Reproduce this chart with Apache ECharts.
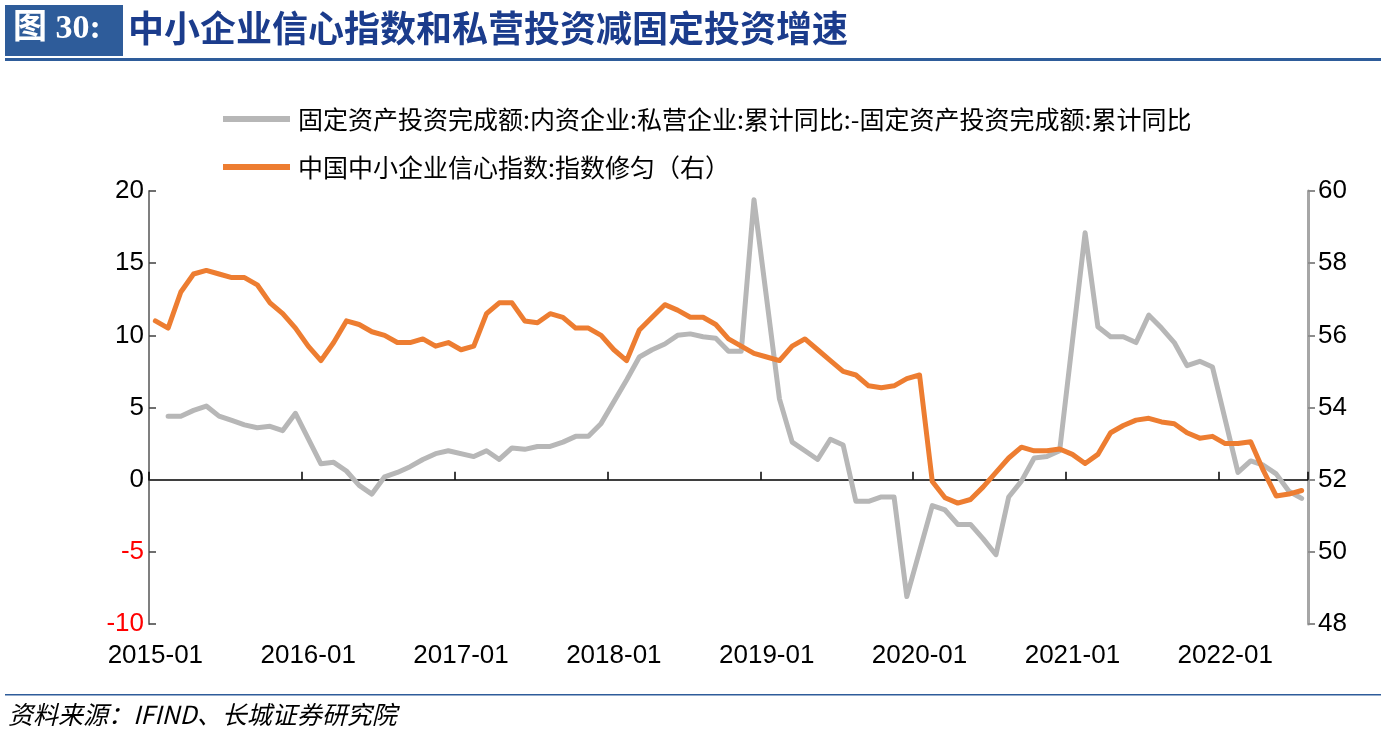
<!DOCTYPE html>
<html>
<head>
<meta charset="utf-8">
<script src="https://cdn.jsdelivr.net/npm/echarts@6/dist/echarts.min.js"></script>
<style>
html,body{margin:0;padding:0;background:#fff;}
#chart{width:1394px;height:746px;}
</style>
</head>
<body>
<div id="chart"></div>
<script>
// Categories: monthly 2015-01 .. 2022-07
var startYear = 2015, monthCount = 91;
var categories = [];
for (var k = 0; k < monthCount; k++) {
  var yy = startYear + Math.floor(k / 12), mm = (k % 12) + 1;
  categories.push(yy + '-' + (mm < 10 ? '0' + mm : mm));
}

var seriesPrivateMinusTotalName = '固定资产投资完成额:内资企业:私营企业:累计同比:-固定资产投资完成额:累计同比';
var seriesSmeIndexName = '中国中小企业信心指数:指数修匀（右）';

// Left axis series (%), January values not published -> null (line connects)
var privateMinusTotal = [
  null, 4.4, 4.4, 4.8, 5.1, 4.4, 4.1, 3.8, 3.6, 3.7, 3.4, 4.6,
  null, 1.1, 1.2, 0.6, -0.4, -1.0, 0.2, 0.5, 0.9, 1.4, 1.8, 2.0,
  null, 1.6, 2.0, 1.4, 2.2, 2.1, 2.3, 2.3, 2.6, 3.0, 3.0, 3.9,
  null, 6.9, 8.5, 9.0, 9.4, 10.0, 10.1, 9.9, 9.8, 8.9, 8.9, 19.4,
  null, 5.6, 2.6, 2.0, 1.4, 2.8, 2.4, -1.5, -1.5, -1.2, -1.2, -8.1,
  null, -1.8, -2.1, -3.1, -3.1, -4.1, -5.2, -1.2, -0.1, 1.5, 1.6, 2.0,
  null, 17.1, 10.6, 9.9, 9.9, 9.5, 11.4, 10.5, 9.5, 7.9, 8.2, 7.8,
  null, 0.5, 1.3, 1.0, 0.4, -0.8, -1.3
];

// Right axis series (index)
var smeConfidence = [
  56.4, 56.2, 57.2, 57.7, 57.8, 57.7, 57.6, 57.6, 57.4, 56.9, 56.6, 56.2,
  55.7, 55.3, 55.8, 56.4, 56.3, 56.1, 56.0, 55.8, 55.8, 55.9, 55.7, 55.8,
  55.6, 55.7, 56.6, 56.9, 56.9, 56.4, 56.35, 56.6, 56.5, 56.2, 56.2, 56.0,
  55.6, 55.3, 56.15, 56.5, 56.85, 56.7, 56.5, 56.5, 56.3, 55.9, 55.7, 55.5,
  55.4, 55.3, 55.7, 55.9, 55.6, 55.3, 55.0, 54.9, 54.6, 54.55, 54.6, 54.8,
  54.9, 51.95, 51.5, 51.35, 51.45, 51.8, 52.2, 52.6, 52.9, 52.8, 52.8, 52.85,
  52.7, 52.45, 52.7, 53.3, 53.5, 53.65, 53.7, 53.6, 53.55, 53.3, 53.15, 53.2,
  53.0, 53.0, 53.05, 52.25, 51.55, 51.6, 51.7
];

var leftAxisMin = -10, leftAxisMax = 20, leftAxisStep = 5;
var rightAxisMin = 48, rightAxisMax = 60, rightAxisStep = 2;

var titleTag = '图 30:';
var titleText = '中小企业信心指数和私营投资减固定投资增速';
var sourceText = '资料来源：IFIND、长城证券研究院';

var chart = echarts.init(document.getElementById('chart'), null, {renderer: 'canvas'});
var numFont = '"Liberation Sans", Arial, sans-serif';
var cjkFont = '"Noto Sans CJK SC", "Liberation Sans", sans-serif';
var blue = '#2E5C9A';

var option = {
  backgroundColor: '#ffffff',
  animation: false,
  grid: {left: 149, right: 86, top: 191, bottom: 122, containLabel: false, outerBoundsMode: 'none'},
  legend: {
    orient: 'vertical',
    left: 218,
    top: 100,
    icon: 'rect',
    itemWidth: 67,
    itemHeight: 6,
    itemGap: 20,
    textStyle: {fontFamily: cjkFont, fontSize: 25, color: '#000', lineHeight: 28, padding: [0, 0, 0, 3]},
    data: [seriesPrivateMinusTotalName, seriesSmeIndexName]
  },
  xAxis: {
    type: 'category',
    data: categories,
    boundaryGap: true,
    axisLine: {show: true, onZero: true, onZeroAxisIndex: 0, lineStyle: {color: '#000', width: 1.5}},
    axisTick: {show: true, inside: true, interval: 11, length: 8, lineStyle: {color: '#000', width: 1.5}},
    axisLabel: {show: true, interval: 11, margin: 19, fontFamily: numFont, fontSize: 26, color: '#000'},
    splitLine: {show: false}
  },
  yAxis: [
    {
      type: 'value',
      position: 'left',
      min: leftAxisMin, max: leftAxisMax, interval: leftAxisStep,
      axisLine: {show: true, lineStyle: {color: '#7f7f7f', width: 2}},
      axisTick: {show: true, inside: true, length: 7, lineStyle: {color: '#404040', width: 1.5}},
      axisLabel: {
        margin: 5, fontFamily: numFont, fontSize: 26,
        color: function (v) { return Number(v) < 0 ? '#FF0000' : '#000000'; }
      },
      splitLine: {show: false}
    },
    {
      type: 'value',
      position: 'right',
      min: rightAxisMin, max: rightAxisMax, interval: rightAxisStep,
      axisLine: {show: true, lineStyle: {color: '#a6a6a6', width: 3}},
      axisTick: {show: true, inside: false, length: 7, lineStyle: {color: '#8c8c8c', width: 2}},
      axisLabel: {margin: 10, fontFamily: numFont, fontSize: 26, color: '#000'},
      splitLine: {show: false}
    }
  ],
  series: [
    {
      name: seriesPrivateMinusTotalName,
      type: 'line',
      yAxisIndex: 0,
      data: privateMinusTotal,
      connectNulls: true,
      showSymbol: false,
      symbol: 'none',
      color: '#B7B7B7',
      lineStyle: {color: '#B7B7B7', width: 5, join: 'round', cap: 'round'},
      z: 2
    },
    {
      name: seriesSmeIndexName,
      type: 'line',
      yAxisIndex: 1,
      data: smeConfidence,
      showSymbol: false,
      symbol: 'none',
      color: '#ED7D31',
      lineStyle: {color: '#ED7D31', width: 5, join: 'round', cap: 'round'},
      z: 3
    }
  ],
  graphic: [
    {type: 'rect', left: 5, top: 5, shape: {width: 118, height: 51}, style: {fill: blue}},
    {type: 'text', left: 13, top: 12, style: {text: titleTag, fill: '#ffffff', font: 'bold 34px "Liberation Serif", "Noto Sans CJK SC", serif'}},
    {type: 'text', left: 128, top: 10, style: {text: titleText, fill: '#1B3C8C', font: 'bold 36px "Noto Sans CJK SC", sans-serif'}},
    {type: 'rect', left: 5, top: 58, shape: {width: 1376, height: 3}, style: {fill: blue}},
    {type: 'rect', left: 5, top: 694, shape: {width: 1376, height: 1.5}, style: {fill: blue}},
    {type: 'text', left: 8, top: 702, style: {text: sourceText, fill: '#000', font: 'italic 25px "Noto Sans CJK SC", sans-serif'}}
  ]
};
chart.setOption(option);
</script>
</body>
</html>
